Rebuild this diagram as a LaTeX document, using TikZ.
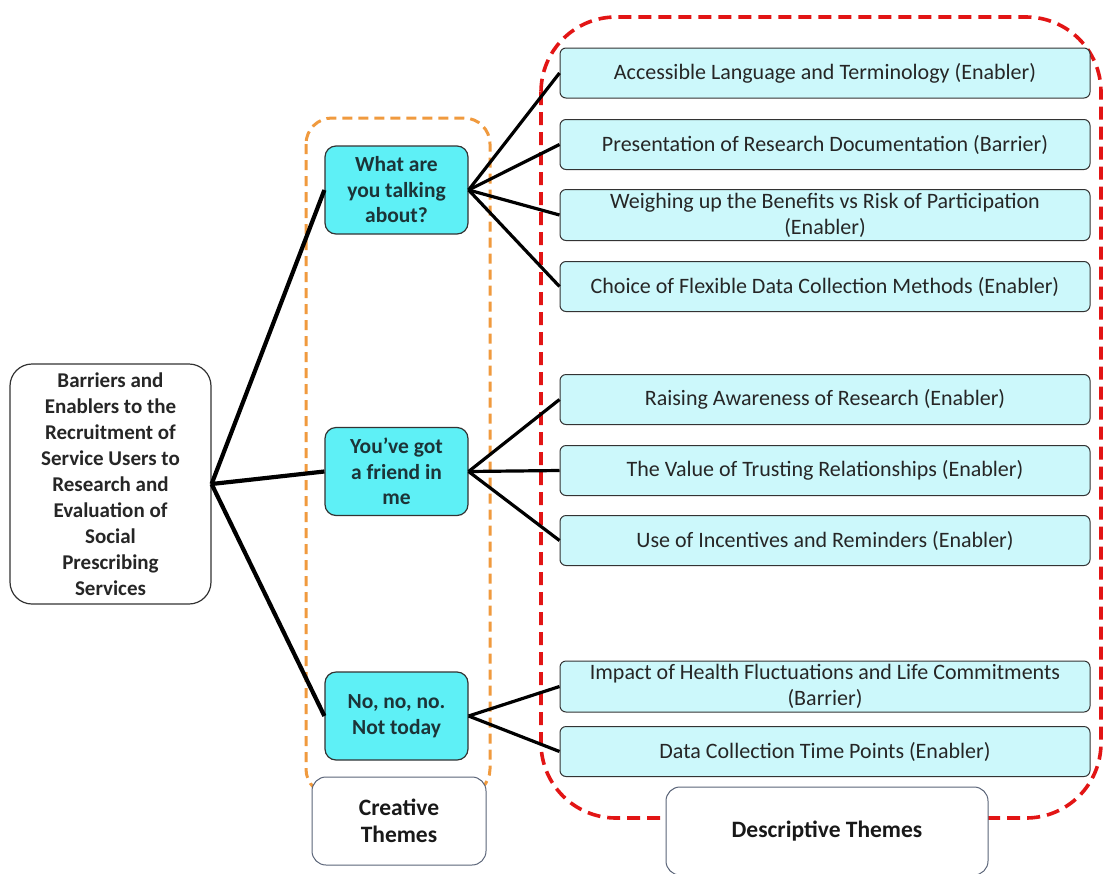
\documentclass[tikz,border=0pt]{standalone}
\usepackage{fontspec}
\setmainfont{Carlito}
\usepackage{xcolor}
\usetikzlibrary{positioning}
\definecolor{themecyan}{HTML}{5EF0F6}
\definecolor{desccyan}{HTML}{CCF8FB}
\definecolor{themeink}{HTML}{1C3438}
\definecolor{textgray}{HTML}{262626}
\definecolor{orangeline}{HTML}{F09A3E}
\definecolor{redline}{HTML}{E21515}
\definecolor{labelframe}{HTML}{5A6478}
\tikzset{
  rootbox/.style ={rounded corners=22pt,draw=black!80,line width=1.2pt,fill=white,
                   align=center,font=\bfseries\fontsize{21}{26}\selectfont,text=textgray,
                   minimum width=201pt,minimum height=240pt},
  themebox/.style={rounded corners=11pt,draw=black!80,line width=1.2pt,fill=themecyan,
                   align=center,font=\bfseries\fontsize{21.5}{25.5}\selectfont,text=themeink,
                   minimum width=143pt,minimum height=88pt},
  descbox/.style ={rounded corners=6pt,draw=black!80,line width=1pt,fill=desccyan,
                   align=center,font=\fontsize{22}{26}\selectfont,text=textgray,
                   minimum width=530pt,minimum height=50pt},
  labelbox/.style={rounded corners=14pt,draw=labelframe,line width=1pt,fill=white,
                   align=center,font=\bfseries\fontsize{23.5}{27}\selectfont,text=black!90},
  zoneorange/.style={rounded corners=26pt,draw=orangeline,line width=3pt,
                   dash pattern=on 10pt off 6pt},
  zonered/.style ={rounded corners=75pt,draw=redline,line width=3.6pt,
                   dash pattern=on 13pt off 7pt},
  trunk/.style   ={line width=4.2pt,draw=black},
  twig/.style    ={line width=3.2pt,draw=black}
}
\begin{document}
\begin{tikzpicture}[x=1pt,y=-1pt]
  \useasboundingbox (0,0) rectangle (1105,873);
  % grouping frames
  \draw[zoneorange] (306,118) rectangle (490,795);
  \draw[zonered] (541,17) rectangle (1101,818);
  % topic
  \node[rootbox] (root) at (110.5,484) {Barriers and\\Enablers to the\\Recruitment of\\Service Users to\\Research and\\Evaluation of\\Social\\Prescribing\\Services};
  % creative themes
  \node[themebox] (talk)   at (396.5,190)   {What are\\you talking\\about?};
  \node[themebox] (friend) at (396.5,471.5) {You've got\\a friend in\\me};
  \node[themebox] (today)  at (396.5,716)   {No, no, no.\\Not today};
  % descriptive themes
  \node[descbox] (lang)    at (825,73)    {Accessible Language and Terminology (Enabler)};
  \node[descbox] (docs)    at (825,144.5) {Presentation of Research Documentation (Barrier)};
  \node[descbox] (risk)    at (825,215)   {Weighing up the Benefits vs Risk of Participation\\(Enabler)};
  \node[descbox] (methods) at (825,286.5) {Choice of Flexible Data Collection Methods (Enabler)};
  \node[descbox] (aware)   at (825,399.5) {Raising Awareness of Research (Enabler)};
  \node[descbox] (trust)   at (825,470.5) {The Value of Trusting Relationships (Enabler)};
  \node[descbox] (incent)  at (825,540.5) {Use of Incentives and Reminders (Enabler)};
  \node[descbox] (health)  at (825,686.5) {Impact of Health Fluctuations and Life Commitments\\(Barrier)};
  \node[descbox] (timepts) at (825,751.5) {Data Collection Time Points (Enabler)};
  % frame labels
  \node[labelbox,minimum width=174pt,minimum height=88pt] (creative) at (399,821) {Creative\\Themes};
  \node[labelbox,minimum width=322pt,minimum height=88pt] (descriptive) at (827,831) {Descriptive Themes};
  % connectors
  \foreach \t in {talk,friend,today}
    \draw[trunk] (root.east) -- (\t.west);
  \foreach \d in {lang,docs,risk,methods}
    \draw[twig] (talk.east) -- (\d.west);
  \foreach \d in {aware,trust,incent}
    \draw[twig] (friend.east) -- (\d.west);
  \foreach \d in {health,timepts}
    \draw[twig] (today.east) -- (\d.west);
\end{tikzpicture}
\end{document}
